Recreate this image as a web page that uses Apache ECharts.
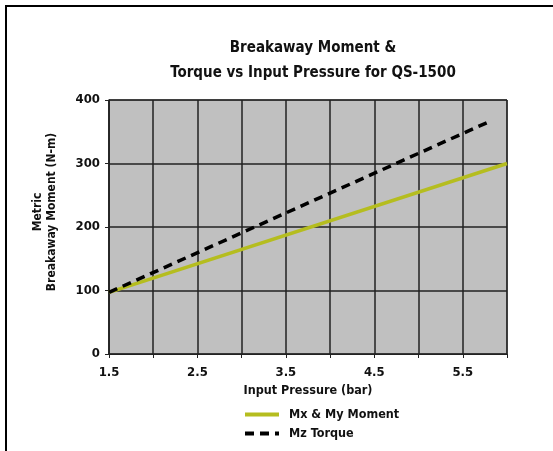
<!DOCTYPE html>
<html>
<head>
<meta charset="utf-8">
<script src="https://cdn.jsdelivr.net/npm/echarts@6/dist/echarts.min.js"></script>
<style>
  html, body { margin: 0; padding: 0; background: #fff; }
  #frame {
    position: absolute; left: 5px; top: 5px; width: 600px; height: 500px;
    border-top: 2px solid #000; border-left: 2px solid #000;
  }
  #main { position: absolute; left: 0; top: 0; width: 553px; height: 451px; }
</style>
</head>
<body>
<div id="frame"></div>
<div id="main"></div>
<script>
// values
const mxPressure = [1.5, 6.0];
const mxMoment = [97, 300];
const mzPressure = [1.5, 5.8];
const mzTorque = [97, 366];
const xLabels = ['1.5', '2.5', '3.5', '4.5', '5.5'];

const font = "'Liberation Sans Narrow', 'DejaVu Sans Condensed', 'Liberation Sans', sans-serif";

var chart = echarts.init(document.getElementById('main'));
var option = {
    animation: false,
    textStyle: { fontFamily: font },
    title: {
        text: 'Breakaway Moment &\nTorque vs Input Pressure for QS-1500',
        left: 308,
        textAlign: 'center',
        top: 31,
        textStyle: { fontFamily: font, fontSize: 15, fontWeight: 'bold', color: '#111', lineHeight: 25 }
    },
    grid: {
        left: 109, top: 100, width: 398, height: 254,
        show: true, backgroundColor: '#c0c0c0', borderColor: '#333', borderWidth: 1
    },
    legend: {
        orient: 'vertical',
        left: 238, top: 403,
        itemWidth: 34, itemHeight: 10, itemGap: 6,
        itemStyle: { opacity: 0 },
        lineStyle: { width: 4 },
        textStyle: { fontFamily: font, fontSize: 12.5, fontWeight: 'bold', color: '#111', padding: [0, 0, 0, 5] },
        data: ['Mx & My Moment', 'Mz Torque']
    },
    xAxis: {
        type: 'value',
        min: 1.5, max: 6, interval: 0.5,
        name: 'Input Pressure (bar)',
        nameLocation: 'middle', nameGap: 27,
        nameTextStyle: { fontFamily: font, fontSize: 12.5, fontWeight: 'bold', color: '#111' },
        axisLine: { show: true, onZero: false, lineStyle: { color: '#222', width: 1 } },
        axisTick: { show: true, length: 4, lineStyle: { color: '#222' } },
        splitLine: { show: true, lineStyle: { color: '#222', width: 1.5 } },
        axisLabel: {
            margin: 12,
            fontFamily: font, fontSize: 13, fontWeight: 'bold', color: '#111',
            formatter: function (v) {
                var s = v.toFixed(1);
                return xLabels.indexOf(s) >= 0 ? s : '';
            }
        }
    },
    yAxis: {
        type: 'value',
        min: 0, max: 400, interval: 100,
        axisLine: { show: true, lineStyle: { color: '#222', width: 1.5 } },
        axisTick: { show: true, length: 4, lineStyle: { color: '#222' } },
        splitLine: { show: true, lineStyle: { color: '#222', width: 1.5 } },
        axisLabel: { margin: 9, fontFamily: font, fontSize: 13, fontWeight: 'bold', color: '#111' }
    },
    graphic: [{
        type: 'text',
        x: 45, y: 212,
        rotation: Math.PI / 2,
        style: {
            text: 'Metric\nBreakaway Moment (N-m)',
            textAlign: 'center', textVerticalAlign: 'middle',
            font: 'bold 12px ' + font, fill: '#111', lineHeight: 14
        }
    }],
    series: [
        {
            name: 'Mx & My Moment',
            type: 'line',
            showSymbol: false, symbol: 'none',
            lineStyle: { color: '#b5bd1f', width: 3.5 },
            itemStyle: { color: '#b5bd1f' },
            data: mxPressure.map((p, i) => [p, mxMoment[i]]),
            z: 3
        },
        {
            name: 'Mz Torque',
            type: 'line',
            showSymbol: false, symbol: 'none',
            lineStyle: { color: '#000', width: 3.5, type: [9, 6] },
            itemStyle: { color: '#000' },
            data: mzPressure.map((p, i) => [p, mzTorque[i]]),
            z: 4
        }
    ]
};
chart.setOption(option);
</script>
</body>
</html>
